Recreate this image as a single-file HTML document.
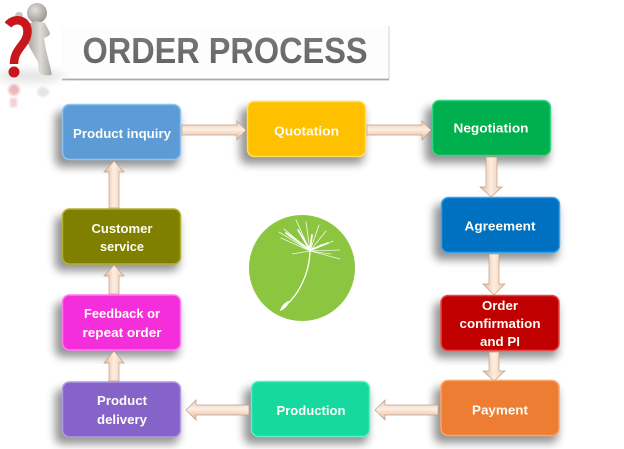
<!DOCTYPE html>
<html><head><meta charset="utf-8"><style>
html,body{margin:0;padding:0;background:#fff;width:624px;height:449px;overflow:hidden}
svg{display:block}
text{font-family:"Liberation Sans",sans-serif;font-weight:bold;fill:#fdfdf5;text-anchor:middle}
</style></head><body>
<svg width="624" height="449" viewBox="0 0 624 449" xmlns="http://www.w3.org/2000/svg">
<defs>
<filter id="s" filterUnits="userSpaceOnUse" x="0" y="0" width="624" height="449"><feGaussianBlur stdDeviation="4.5"/></filter>
<filter id="b1" filterUnits="userSpaceOnUse" x="0" y="0" width="624" height="449"><feGaussianBlur stdDeviation="1"/></filter>
<filter id="all" filterUnits="userSpaceOnUse" x="0" y="0" width="624" height="449"><feGaussianBlur stdDeviation=".35"/></filter>
<linearGradient id="fig" x1="0" x2="1" y1="0" y2="0"><stop offset="0" stop-color="#a09d98"/><stop offset=".55" stop-color="#dedbd6"/><stop offset="1" stop-color="#aaa7a2"/></linearGradient>
<radialGradient id="head" cx=".4" cy=".35" r=".75"><stop offset="0" stop-color="#e4e1dc"/><stop offset="1" stop-color="#908d88"/></radialGradient>
<linearGradient id="ah" x1="0" x2="0" y1="0" y2="1"><stop offset="0" stop-color="#eec6a8"/><stop offset=".45" stop-color="#fdeee2"/><stop offset="1" stop-color="#e6b796"/></linearGradient>
<linearGradient id="av" x1="0" x2="1" y1="0" y2="0"><stop offset="0" stop-color="#e6b796"/><stop offset=".5" stop-color="#fdeee2"/><stop offset="1" stop-color="#eec6a8"/></linearGradient>
<linearGradient id="title" x1="0" x2="0" y1="0" y2="1"><stop offset="0" stop-color="#7c7c7c"/><stop offset="1" stop-color="#5f5f5f"/></linearGradient>
</defs>

<g filter="url(#all)">
<!-- title panel -->
<rect x="62" y="26" width="327" height="53" fill="#fdfdfd"/>
<path d="M389 26V79" stroke="#dcdcdc" stroke-width="1.200"/>
<path d="M62 79.500H389" stroke="#a9a9a9" stroke-width="1.800"/>
<text x="225" y="63" font-size="36" textLength="285" lengthAdjust="spacingAndGlyphs" style="fill:url(#title)">ORDER PROCESS</text>

<!-- figure and question mark -->
<ellipse cx="30" cy="76" rx="34" ry="6" fill="#e2e2e2" filter="url(#s)"/>
<circle cx="37" cy="13" r="10" fill="url(#head)"/>
<path d="M28 24C24 30 26 40 30 48L38 62L39 72C40 75 46 76 52 75L50 66L46 50L44 38C47 37 50 36 50 33L45 23L36 21Z" fill="url(#fig)"/>
<path d="M16 15L28 20L26 26L17 21Z" fill="#b5b2ad"/>
<circle cx="19" cy="16" r="4" fill="#c7c4bf"/>
<path d="M8 25C14 17 28 19 27.500 32C27 45 14 48 14 64" fill="none" stroke="#c8161d" stroke-width="8.500"/>
<circle cx="14" cy="72" r="5.500" fill="#c8161d"/>
<g opacity=".3" filter="url(#b1)">
<circle cx="14" cy="90" r="5.500" fill="#c8161d"/>
<rect x="10" y="98" width="7" height="9" fill="#c8161d" opacity=".6"/>
<ellipse cx="43" cy="92" rx="6" ry="5" fill="#aaa"/>
</g>

<!-- node shadows -->
<g fill="#000" opacity=".42" filter="url(#s)">
<rect x="55" y="111" width="124" height="56" rx="7"/>
<rect x="240" y="108" width="124" height="56" rx="7"/>
<rect x="425" y="107" width="124" height="56" rx="7"/>
<rect x="434" y="204" width="124" height="56" rx="7"/>
<rect x="434" y="302" width="124" height="56" rx="7"/>
<rect x="434" y="387" width="124" height="56" rx="7"/>
<rect x="244" y="388" width="124" height="56" rx="7"/>
<rect x="55" y="389" width="124" height="55" rx="7"/>
<rect x="55" y="302" width="124" height="55" rx="7"/>
<rect x="55" y="216" width="124" height="55" rx="7"/>
</g>

<!-- arrows -->
<g stroke="#b9a18e" stroke-width=".7">
<path fill="url(#ah)" d="M182 125H237V121L246 130L237 140V135H182Z"/>
<path fill="url(#ah)" d="M367 125H422V121L431 130L422 140V135H367Z"/>
<path fill="url(#ah)" d="M438 405H385V400L375 410L385 420V415H438Z"/>
<path fill="url(#ah)" d="M249 405H196V400L186 410L196 420V415H249Z"/>
<path fill="url(#av)" d="M486 157V187H480L491 197L502 187H497V157Z"/>
<path fill="url(#av)" d="M489 254V284H483L494 295L505 284H499V254Z"/>
<path fill="url(#av)" d="M489 352V371H483L494 381L505 371H499V352Z"/>
<path fill="url(#av)" d="M109 381V363H104L114 351L124 363H119V381Z"/>
<path fill="url(#av)" d="M109 294V276H104L114 265L124 276H119V294Z"/>
<path fill="url(#av)" d="M109 208V172H104L114 161L124 172H119V208Z"/>
</g>

<!-- nodes -->
<g stroke-width="1.500">
<rect x="62.500" y="104.500" width="118" height="55" rx="7" fill="#5b9bd5" stroke="#8fc4f2"/>
<rect x="247.500" y="101.500" width="118" height="55" rx="7" fill="#ffc000" stroke="#ffe04d"/>
<rect x="432.500" y="100.500" width="118" height="55" rx="7" fill="#00b050" stroke="#35d583"/>
<rect x="441.500" y="197.500" width="118" height="55" rx="7" fill="#0070c0" stroke="#36a3ee"/>
<rect x="441" y="295.500" width="118" height="55" rx="7" fill="#c00000" stroke="#e84a4a"/>
<rect x="441" y="380.500" width="118" height="55" rx="7" fill="#ed7d31" stroke="#f8a768"/>
<rect x="251.500" y="381.500" width="118" height="55" rx="7" fill="#14d9a0" stroke="#5cf0c4"/>
<rect x="62.500" y="382" width="118" height="55" rx="7" fill="#8664c8" stroke="#b198e6"/>
<rect x="62.500" y="295" width="118" height="55" rx="7" fill="#f52fdc" stroke="#ff7cee"/>
<rect x="62.500" y="209" width="118" height="55" rx="7" fill="#808000" stroke="#b0b030"/>
</g>

<!-- node labels -->
<g font-size="13">
<text x="122" y="138" textLength="98" lengthAdjust="spacingAndGlyphs">Product inquiry</text>
<text x="306.500" y="135.500" textLength="65" lengthAdjust="spacingAndGlyphs">Quotation</text>
<text x="491" y="132.500" textLength="75" lengthAdjust="spacingAndGlyphs">Negotiation</text>
<text x="500" y="230.500" textLength="71" lengthAdjust="spacingAndGlyphs">Agreement</text>
<text x="500" y="310" textLength="36" lengthAdjust="spacingAndGlyphs">Order</text>
<text x="500" y="328" textLength="81" lengthAdjust="spacingAndGlyphs">confirmation</text>
<text x="500" y="346" textLength="40" lengthAdjust="spacingAndGlyphs">and PI</text>
<text x="500" y="414.500" textLength="56" lengthAdjust="spacingAndGlyphs">Payment</text>
<text x="311" y="415" textLength="69" lengthAdjust="spacingAndGlyphs">Production</text>
<text x="122" y="405" textLength="50" lengthAdjust="spacingAndGlyphs">Product</text>
<text x="122" y="424" textLength="50" lengthAdjust="spacingAndGlyphs">delivery</text>
<text x="122" y="318" textLength="76" lengthAdjust="spacingAndGlyphs">Feedback or</text>
<text x="122" y="337" textLength="79" lengthAdjust="spacingAndGlyphs">repeat order</text>
<text x="122" y="233" textLength="61" lengthAdjust="spacingAndGlyphs">Customer</text>
<text x="122" y="251" textLength="44" lengthAdjust="spacingAndGlyphs">service</text>
</g>

<!-- logo -->
<circle cx="302" cy="268" r="53" fill="#8cc63f"/>
<g stroke="#fff" fill="none" stroke-linecap="round">
<path d="M310 252C309 276 297 296 286 305" stroke-width="1.300"/>
<path d="M310 251L279 232M310 251L284 229M310 251L281 238M310 251L296 220M310 251L306 222M310 251L319 225M310 251L326 231M310 251L333 241" stroke-width=".9" opacity=".85"/>
<path d="M310 251L340 250M310 251L340 259M310 251L292 254M310 251L322 244M310 251L331 254" stroke-width=".7" opacity=".85"/>
<path d="M310 250L286 233M310 250L298 230M310 250L312 235M310 250L328 243" stroke-width="1.700"/>
</g>
<path d="M280 311C281 306 285 302 289 301C288 306 285 309 280 311Z" fill="#fff"/>
</g>
</svg>
</body></html>
